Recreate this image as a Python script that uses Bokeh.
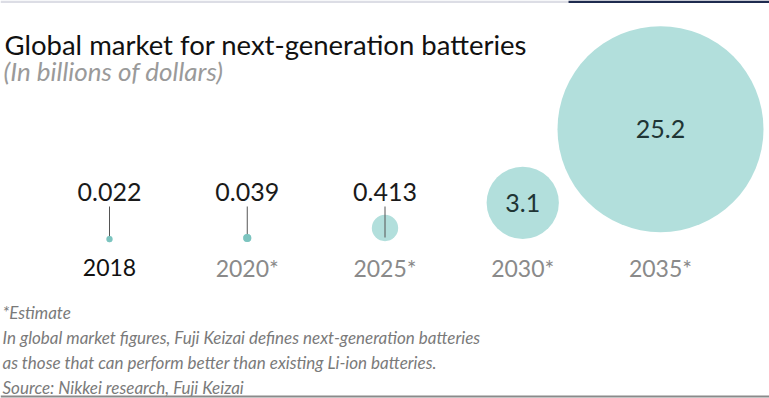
import math
from bokeh.plotting import figure
from bokeh.models import Range1d, Label, ColumnDataSource, Span, BoxAnnotation
from bokeh.core.properties import value
from bokeh.embed import file_html
from bokeh.resources import INLINE

# ---- data ----
years = ["2018", "2020*", "2025*", "2030*", "2035*"]
values = [0.022, 0.039, 0.413, 3.1, 25.2]
value_labels = ["0.022", "0.039", "0.413", "3.1", "25.2"]
title_text = "Global market for next-generation batteries"
subtitle_text = "(In billions of dollars)"
notes = [
    "*Estimate",
    "In global market figures, Fuji Keizai defines next-generation batteries",
    "as those that can perform better than existing Li-ion batteries.",
    "Source: Nikkei research, Fuji Keizai",
]

FONT = "Lato"
W, H = 769, 398
PX_PER_UNIT = 137.75          # horizontal spacing between years (px)
X0 = -109 / PX_PER_UNIT       # left edge of frame in index units

def px2x(px):
    return X0 + px / PX_PER_UNIT

p = figure(width=W, height=H, output_backend="svg", toolbar_location=None,
           x_range=Range1d(X0, X0 + W / PX_PER_UNIT), y_range=Range1d(H, 0),
           min_border=0, outline_line_color=None, background_fill_color="white")
p.axis.visible = False
p.grid.visible = False

# decorative top bars
p.add_layout(BoxAnnotation(left=X0, right=px2x(568), top=0, bottom=2.5,
                           fill_color="#dcdde5", fill_alpha=1, line_color=None))
p.add_layout(BoxAnnotation(left=px2x(568), right=px2x(769), top=0, bottom=2.5,
                           fill_color="#1e2b4f", fill_alpha=1, line_color=None))

# bubbles: area proportional to value
K = 103 / math.sqrt(max(values))
radii = [K * math.sqrt(v) for v in values]
BASE = 242
idx = list(range(len(years)))
cy = [BASE - 1.1 * r for r in radii]
src = ColumnDataSource(dict(x=idx, y=cy, size=[2 * r for r in radii]))
p.scatter("x", "y", size="size", source=src, fill_color="#b2dfdc",
          line_color=None)

# leader lines for small bubbles (labels outside)
small = [i for i, r in enumerate(radii) if r < 20]
p.segment(x0=[idx[i] for i in small], y0=[206] * len(small),
          x1=[idx[i] for i in small], y1=[237] * len(small),
          line_color="#555555", line_width=1)
small_dots = [i for i, r in enumerate(radii) if r < 6]
p.scatter(x=[idx[i] for i in small_dots], y=[cy[i] for i in small_dots],
          size=[2 * radii[i] for i in small_dots], fill_color="#7cc4bf", line_color=None)

# value labels
for i, (lab, r) in enumerate(zip(value_labels, radii)):
    if r < 20:
        ly, col = 191, "#1a1a1a"
    else:
        ly, col = cy[i], "#1f3535"
    p.add_layout(Label(x=i, y=ly, text=lab, text_align="center", text_baseline="middle",
                       text_font=FONT, text_font_size="25px", text_color=col))

# year labels
for i, yr in enumerate(years):
    col = "#111111" if "*" not in yr else "#8a8a8a"
    p.add_layout(Label(x=i, y=267, text=yr, text_align="center", text_baseline="middle",
                       text_font=FONT, text_font_size="23px", text_color=col))

# title / subtitle
p.add_layout(Label(x=px2x(4), y=44, text=title_text, text_align="left",
                   text_baseline="alphabetic", text_font=FONT, text_font_size="27.5px",
                   text_color="#111111"))
p.add_layout(Label(x=px2x(3), y=70, text=subtitle_text, text_align="left",
                   text_baseline="alphabetic", text_font=FONT, text_font_size="26px",
                   text_font_style="italic", text_color="#9a9a9a"))

# footnotes
for j, line in enumerate(notes):
    p.add_layout(Label(x=px2x(2), y=311.5 + 25 * j, text=line, text_align="left",
                       text_baseline="alphabetic", text_font=FONT, text_font_size="17px",
                       text_font_style="italic", text_color="#7a7a7a"))

p.add_layout(Span(location=396, dimension="width", line_color="#8a8a8a", line_width=2))

open("out.html", "w").write(file_html(p, INLINE))
